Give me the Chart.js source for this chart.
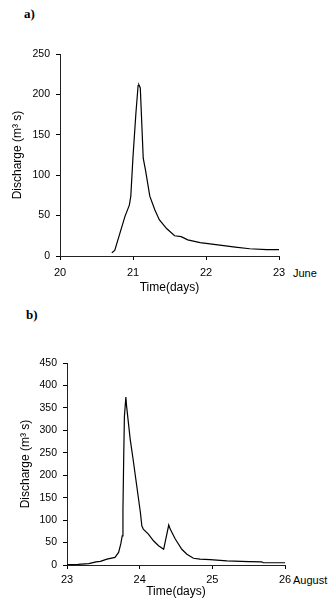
<!DOCTYPE html>
<html>
<head>
<meta charset="utf-8">
<script src="https://cdn.jsdelivr.net/npm/chart.js@4/dist/chart.umd.min.js"></script>
<style>
  body { margin: 0; background: #fff; width: 334px; height: 612px; position: relative; overflow: hidden; }
  canvas { position: absolute; left: 0; }
  #chartA { top: 0; }
  #chartB { top: 300px; }
  .tag { position: absolute; font: bold 13px "Liberation Serif", serif; color: #000; }
  .unit { position: absolute; font: 11px "Liberation Sans", Arial, sans-serif; color: #000; line-height: 14px; }
</style>
</head>
<body>
<div class="tag" style="left:24px; top:6px;">a)</div>
<div class="tag" style="left:26px; top:307px;">b)</div>
<div class="unit" style="left:293px; top:266px;">June</div>
<div class="unit" style="left:293px; top:573px;">August</div>
<canvas id="chartA" width="334" height="300"></canvas>
<canvas id="chartB" width="334" height="312"></canvas>
<script>
// June event
const dayA = [20.71, 20.75, 20.82, 20.89, 20.95, 20.97, 21.00, 21.04, 21.07, 21.08, 21.10, 21.14, 21.17, 21.23, 21.30, 21.36, 21.46, 21.57, 21.66, 21.75, 21.92, 22.19, 22.40, 22.60, 22.83, 23.00];
const dischargeA = [4, 7, 28, 49, 63, 74, 123, 177, 211, 212, 208, 121, 107, 74, 57, 45, 34, 25, 24, 20, 16.5, 13.5, 11, 9, 8, 8];
const xTicksA = [20, 21, 22, 23];
const yTicksA = [0, 50, 100, 150, 200, 250];

// August event
const dayB = [23.00, 23.15, 23.30, 23.40, 23.46, 23.55, 23.66, 23.71, 23.74, 23.76, 23.77, 23.78, 23.79, 23.81, 23.82, 23.87, 23.91, 23.96, 24.01, 24.03, 24.05, 24.12, 24.19, 24.26, 24.33, 24.40, 24.42, 24.49, 24.58, 24.65, 24.74, 24.83, 24.97, 25.20, 25.50, 25.68, 25.70, 26.00];
const dischargeB = [1, 1.5, 3, 7, 8, 13, 17, 28, 47, 65, 124, 235, 331, 374, 354, 280, 235, 176, 117, 87, 80, 69, 54, 43, 35, 89, 80, 58, 35, 24, 15, 13, 12, 9, 7.5, 7, 5, 5];
const xTicksB = [23, 24, 25, 26];
const yTicksB = [0, 50, 100, 150, 200, 250, 300, 350, 400, 450];

const yLabel = 'Discharge (m\u00b3 s)';
const xLabel = 'Time(days)';
const fam = '"Liberation Sans", Arial, sans-serif';

function makeChart(id, days, values, xTicks, yTicks, lay) {
  const pts = days.map((d, i) => ({ x: d, y: values[i] }));
  return new Chart(document.getElementById(id), {
    type: 'line',
    data: {
      datasets: [{
        data: pts,
        borderColor: '#000',
        borderWidth: 1.2,
        pointRadius: 0,
        tension: 0,
        fill: false
      }]
    },
    options: {
      responsive: false,
      animation: false,
      events: [],
      layout: { padding: { left: 0, top: lay.top, right: lay.right, bottom: 0 } },
      plugins: { legend: { display: false }, tooltip: { enabled: false } },
      scales: {
        x: {
          type: 'linear',
          min: xTicks[0],
          max: xTicks[xTicks.length - 1],
          afterBuildTicks: s => { s.ticks = xTicks.map(v => ({ value: v })); },
          afterFit: s => { s.height = lay.xh; },
          grid: { drawOnChartArea: false, drawTicks: true, tickLength: 4, color: '#000' },
          border: { color: '#222', width: 1 },
          ticks: { color: '#000', padding: lay.xpad, maxRotation: 0, font: { family: fam, size: 11 } },
          title: { display: true, text: xLabel, color: '#000', font: { family: fam, size: 12 }, padding: { top: 0, bottom: lay.xtitle } }
        },
        y: {
          min: yTicks[0],
          max: yTicks[yTicks.length - 1],
          afterBuildTicks: s => { s.ticks = yTicks.map(v => ({ value: v })); },
          afterFit: s => { s.width = lay.yw; },
          grid: { drawOnChartArea: false, drawTicks: true, tickLength: 4, color: '#000' },
          border: { color: '#222', width: 1 },
          ticks: { color: '#000', padding: 6, font: { family: fam, size: 10.5 } },
          title: { display: true, text: yLabel, color: '#000', font: { family: fam, size: 12 }, padding: { top: lay.ytitle, bottom: 0 } }
        }
      }
    }
  });
}

makeChart('chartA', dayA, dischargeA, xTicksA, yTicksA,
  { top: 54, right: 55, yw: 60, xh: 44, xpad: 6, xtitle: 5, ytitle: 10 });
makeChart('chartB', dayB, dischargeB, xTicksB, yTicksB,
  { top: 63, right: 49, yw: 67, xh: 47, xpad: 4, xtitle: 13, ytitle: 18 });
</script>
</body>
</html>
